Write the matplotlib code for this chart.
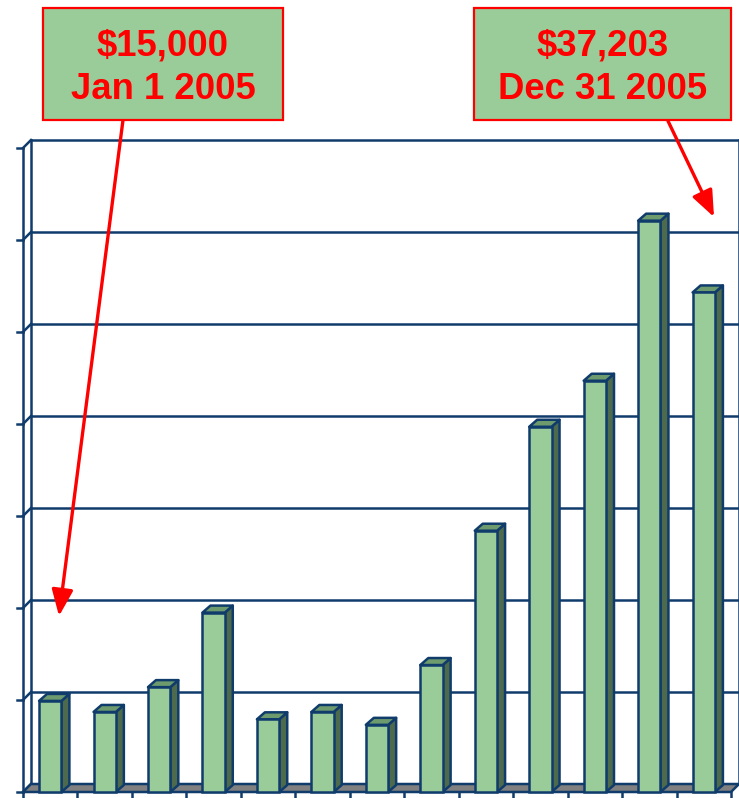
import matplotlib
matplotlib.use('Agg')
import matplotlib.pyplot as plt
from matplotlib.patches import Polygon, Rectangle

# bar heights (no value axis labels in the original, units = gridline steps)
months = list(range(13))
values = [0.99, 0.87, 1.14, 1.95, 0.79, 0.87, 0.73, 1.38, 2.84, 3.97, 4.47, 6.21, 5.43]
grid_levels = list(range(8))

labels = [('$15,000\nJan 1 2005', 'left'), ('$37,203\nDec 31 2005', 'right')]

W, H = 739, 798
CAT_PX = 54.46   # pixels per category
VAL_PX = 92.0    # pixels per value unit
X0_PX, Y0_PX = 23, 792

FRONT = '#99cc99'
SIDE = '#4d6a4d'
TOP = '#6e9b6e'
NAVY = '#103c6c'
FLOOR = '#808080'

# depth offsets of the pseudo 3d look
wall_dx, wall_dy = 8 / CAT_PX, 8 / VAL_PX
bar_dx, bar_dy = 8 / CAT_PX, 7 / VAL_PX
bar_w = 0.41

fig = plt.figure(figsize=(W / 100, H / 100), dpi=100)
ax = fig.add_axes([0, 0, 1, 1])
ax.set_xlim(-X0_PX / CAT_PX, (W - X0_PX) / CAT_PX)
ax.set_ylim(-(H - Y0_PX) / VAL_PX, Y0_PX / VAL_PX)
ax.axis('off')

n = len(values)
top = grid_levels[-1]
lw = 1.8

# back wall gridlines, left wall diagonals and ticks
for g in grid_levels:
    ax.plot([wall_dx, n + wall_dx], [g + wall_dy, g + wall_dy], color=NAVY, lw=lw, zorder=1)
    ax.plot([0, wall_dx], [g, g + wall_dy], color=NAVY, lw=lw, zorder=1)
    ax.plot([-6 / CAT_PX, 0], [g, g], color=NAVY, lw=lw, zorder=1)
ax.plot([0, 0], [0, top], color=NAVY, lw=lw, zorder=1)
ax.plot([wall_dx, wall_dx], [wall_dy, top + wall_dy], color=NAVY, lw=lw, zorder=1)
ax.plot([n + wall_dx, n + wall_dx], [wall_dy, top + wall_dy], color=NAVY, lw=lw, zorder=1)

# floor
ax.add_patch(Polygon([(0, 0), (n, 0), (n + wall_dx, wall_dy), (wall_dx, wall_dy)],
                     closed=True, facecolor=FLOOR, edgecolor=NAVY, lw=lw, zorder=2))
for i in range(n + 1):
    ax.plot([i, i], [0, -6 / VAL_PX], color=NAVY, lw=lw, zorder=2)

# bars
centers = [m + 0.5 for m in months]
for c, v in zip(centers, values):
    x0, x1 = c - bar_w / 2, c + bar_w / 2
    ax.add_patch(Polygon([(x1, 0), (x1 + bar_dx, bar_dy), (x1 + bar_dx, v + bar_dy), (x1, v)],
                         closed=True, facecolor=SIDE, edgecolor=NAVY, lw=lw, zorder=3,
                         joinstyle='round'))
    ax.add_patch(Polygon([(x0, v), (x1, v), (x1 + bar_dx, v + bar_dy), (x0 + bar_dx, v + bar_dy)],
                         closed=True, facecolor=TOP, edgecolor=NAVY, lw=lw, zorder=3,
                         joinstyle='round'))
ax.bar(centers, values, width=bar_w, color=FRONT, edgecolor=NAVY, linewidth=lw, zorder=4)

# callout boxes
boxes = [(43, 8, 240, 112), (474, 8, 257, 112)]
for (bx, by, bw, bh), (txt, _) in zip(boxes, labels):
    fig.add_artist(Rectangle((bx / W, 1 - (by + bh) / H), bw / W, bh / H,
                             transform=fig.transFigure, facecolor=FRONT,
                             edgecolor='red', lw=1.6, zorder=5))
    fig.text((bx + bw / 2) / W, 1 - (by + bh / 2 + 4) / H, txt, ha='center', va='center',
             color='red', fontsize=26.3, fontweight='bold', family='Liberation Sans',
             linespacing=1.32, zorder=6)

# arrows from boxes to first / last bar
arrow_from = [(123, H - 120), (668, H - 121)]
arrow_to = [((59 - X0_PX) / CAT_PX, (Y0_PX - 616) / VAL_PX),
            ((714 - X0_PX) / CAT_PX, (Y0_PX - 217) / VAL_PX)]
for start, end in zip(arrow_from, arrow_to):
    ax.annotate('', xy=end, xytext=start, textcoords='figure pixels',
                arrowprops=dict(arrowstyle='-|>,head_length=1.6,head_width=0.65',
                                color='red', lw=2.4, shrinkA=0, shrinkB=0),
                zorder=7, annotation_clip=False)

fig.savefig('out.png', dpi=100)
